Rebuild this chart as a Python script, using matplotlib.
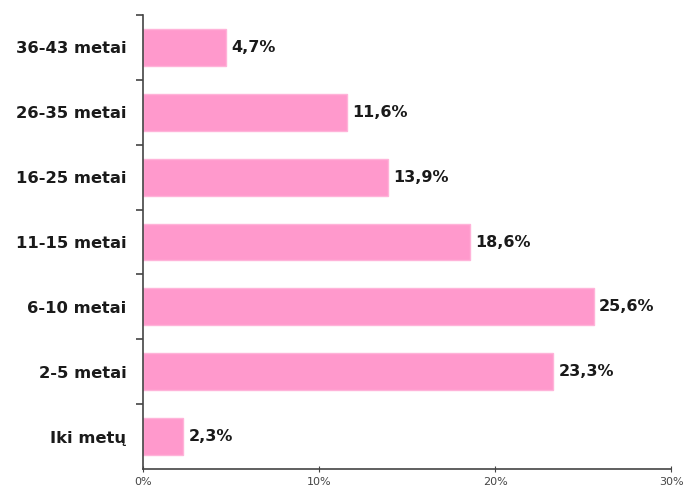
import matplotlib.pyplot as plt
import numpy as np

# age groups, bottom to top
categories = ['Iki metų', '2-5 metai', '6-10 metai', '11-15 metai',
              '16-25 metai', '26-35 metai', '36-43 metai']
shares = [2.3, 23.3, 25.6, 18.6, 13.9, 11.6, 4.7]
x_ticks = [0, 10, 20, 30]

pink = '#ff99cc'
ink = '#1a1a1a'
font = ['DejaVu Sans']

fig = plt.figure(figsize=(6.87, 4.90), dpi=100)
ax = fig.add_axes([143 / 687, 21 / 490, 528 / 687, 454 / 490])

y = np.arange(len(categories))
ax.barh(y, shares, height=0.57, color=pink, edgecolor='#ffb3d9', linewidth=1)

for yi, v in zip(y, shares):
    ax.text(v + 0.3, yi, ('%.1f%%' % v).replace('.', ','), va='center', ha='left',
            fontsize=11.5, fontweight='bold', color=ink, family=font)

ax.set_xlim(0, 30)
ax.set_ylim(-0.5, len(categories) - 0.5)

ax.set_xticks(x_ticks)
ax.set_xticklabels(['%d%%' % t for t in x_ticks], fontsize=8, color='#444444', family=font)
ax.set_yticks(y)
ax.set_yticklabels(categories, fontsize=11.8, fontweight='bold', color=ink, family=font)
ax.tick_params(axis='y', length=0, pad=12)
ax.tick_params(axis='x', length=4, direction='inout', color='#444444', pad=4)

# small ticks between the category rows
ax.set_yticks(np.arange(len(categories)) + 0.5, minor=True)
ax.tick_params(axis='y', which='minor', length=5, color='#444444', width=1.2, direction='out')

for s in ['top', 'right']:
    ax.spines[s].set_visible(False)
for s in ['left', 'bottom']:
    ax.spines[s].set_color('#444444')
    ax.spines[s].set_linewidth(1.2)

fig.savefig('out.png', dpi=100)
